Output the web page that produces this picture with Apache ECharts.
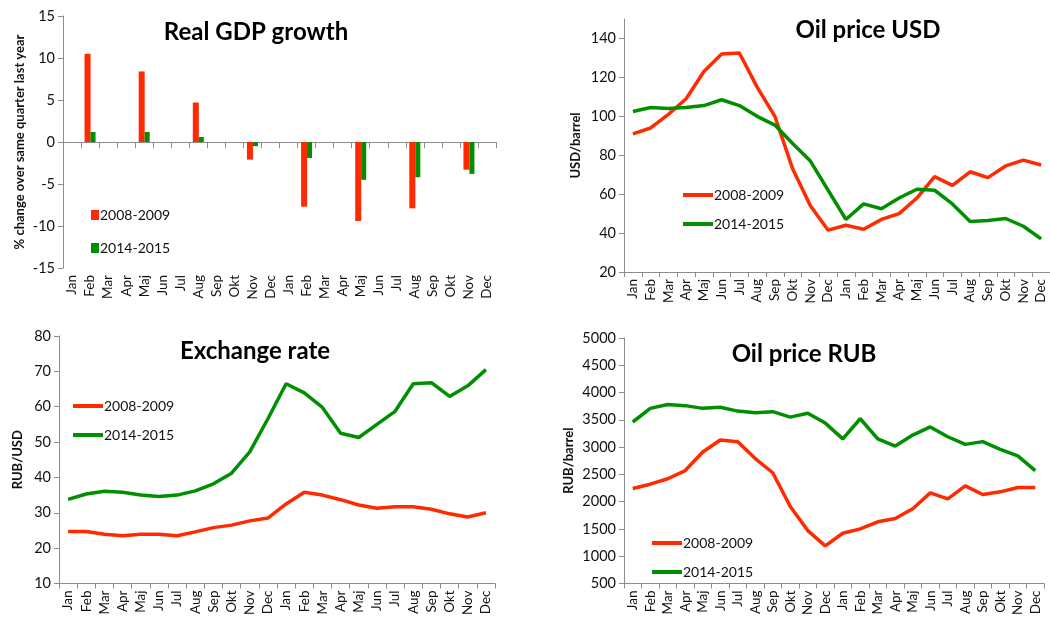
<!DOCTYPE html>
<html>
<head>
<meta charset="utf-8">
<script src="https://cdn.jsdelivr.net/npm/echarts@6/dist/echarts.min.js"></script>
<style>
html, body { margin: 0; padding: 0; background: #fff; }
#main { width: 1050px; height: 618px; }
</style>
</head>
<body>
<div id="main"></div>
<script>
// month categories, two years
var months = ['Jan','Feb','Mar','Apr','Maj','Jun','Jul','Aug','Sep','Okt','Nov','Dec',
              'Jan','Feb','Mar','Apr','Maj','Jun','Jul','Aug','Sep','Okt','Nov','Dec'];
var seriesNames = ['2008-2009', '2014-2015'];

// real GDP growth, quarterly (only Feb/Maj/Aug/Nov filled)
var gdp0809 = [null,10.5,null,null,8.4,null,null,4.7,null,null,-2.1,null,
               null,-7.7,null,null,-9.4,null,null,-7.9,null,null,-3.3,null];
var gdp1415 = [null,1.2,null,null,1.2,null,null,0.6,null,null,-0.5,null,
               null,-1.9,null,null,-4.5,null,null,-4.2,null,null,-3.8,null];

// oil price USD/barrel
var oilUsd0809 = [91,94,101,109,123,132,132.5,115,100,73,54,41.5,
                  44,42,47,50,58,69,64.5,71.5,68.5,74.5,77.5,75];
var oilUsd1415 = [102.5,104.5,104,104.5,105.5,108.5,105.5,100,95.5,86,77,62,
                  47,55,52.5,58,62.5,62,55,46,46.5,47.5,43.5,37];

// exchange rate RUB/USD
var fx0809 = [24.7,24.7,23.9,23.5,23.9,23.9,23.5,24.6,25.8,26.5,27.7,28.5,
              32.5,35.8,35,33.7,32.2,31.3,31.7,31.7,31,29.7,28.8,30];
var fx1415 = [33.8,35.3,36.1,35.8,35,34.6,35,36.2,38.2,41.2,47.2,56.6,
              66.5,63.9,59.8,52.5,51.3,55,58.7,66.5,66.8,62.9,65.9,70.5];

// oil price RUB/barrel
var oilRub0809 = [2240,2320,2420,2570,2910,3130,3100,2790,2530,1910,1470,1190,
                  1420,1500,1630,1690,1870,2160,2050,2290,2130,2180,2260,2260];
var oilRub1415 = [3460,3710,3780,3760,3710,3730,3660,3630,3650,3550,3620,3440,
                  3150,3520,3150,3020,3220,3370,3190,3050,3100,2960,2840,2570];

var RED = '#ff2a00';
var GREEN = '#008f00';
var AXIS = '#8c8c8c';
var FONT = 'Lato';

var grids = [
  { left: 63, top: 16, width: 433, height: 252 },
  { left: 624, top: 19, width: 426, height: 253 },
  { left: 59, top: 336, width: 436, height: 252 },
  { left: 624, top: 338, width: 420, height: 250 }
];

function catAxis(gi, extra) {
  var ax = {
    type: 'category', gridIndex: gi, data: months,
    axisLine: { lineStyle: { color: AXIS } },
    axisTick: { show: true, interval: 0, length: 5, lineStyle: { color: AXIS } },
    axisLabel: { interval: 0, rotate: 90, color: '#111', fontSize: 13.5, fontFamily: FONT, margin: 7 }
  };
  for (var k in extra) ax[k] = extra[k];
  return ax;
}

function valAxis(gi, min, max, interval, name, gap) {
  return {
    type: 'value', gridIndex: gi, min: min, max: max, interval: interval,
    name: name, nameLocation: 'middle', nameRotate: 90, nameGap: gap,
    nameTextStyle: { fontFamily: FONT, fontWeight: 'bold', fontSize: 13, color: '#111' },
    splitLine: { show: false },
    axisLine: { show: true, lineStyle: { color: AXIS } },
    axisTick: { show: true, length: 5, lineStyle: { color: AXIS } },
    axisLabel: { color: '#111', fontSize: 14.5, fontFamily: FONT,
                 showMaxLabel: (max - min) % interval === 0,
                 formatter: function (v) { return String(v); } }
  };
}

function lineSeries(name, data, color, idx) {
  return {
    name: name, type: 'line', data: data, xAxisIndex: idx, yAxisIndex: idx,
    showSymbol: false, symbol: 'none', smooth: false,
    lineStyle: { color: color, width: 3.5 }, itemStyle: { color: color }
  };
}

function legendAt(left, top, isBar) {
  return {
    left: left, top: top, orient: 'vertical', itemGap: isBar ? 19 : 15,
    itemWidth: isBar ? 8 : 30, itemHeight: isBar ? 10 : 4,
    icon: 'rect', data: seriesNames, selectedMode: false,
    textStyle: { fontFamily: FONT, fontSize: 14, color: '#111', padding: [0, 0, 0, -4] }
  };
}

function titleAt(text, x, y) {
  return {
    text: text, left: x, top: y, textAlign: 'center',
    textStyle: { fontFamily: FONT, fontWeight: 'bold', fontSize: 24, color: '#000' }
  };
}

var chart = echarts.init(document.getElementById('main'));

var option = {
  backgroundColor: '#fff',
  animation: false,
  title: [
    titleAt('Real GDP growth', 251, 15),
    titleAt('Oil price USD', 863, 13),
    titleAt('Exchange rate', 250, 334),
    titleAt('Oil price RUB', 799, 337)
  ],
  legend: [
    legendAt(86, 203, true),
    legendAt(678, 183, false),
    legendAt(68, 394, false),
    legendAt(647, 531, false)
  ],
  grid: grids,
  xAxis: [
    catAxis(0, { position: 'top', axisLine: { onZero: true, lineStyle: { color: AXIS } },
                 axisTick: { show: true, interval: 0, inside: true, length: 6, lineStyle: { color: AXIS } },
                 axisLabel: { show: false } }),
    catAxis(1, {}),
    catAxis(2, {}),
    catAxis(3, {}),
    catAxis(0, { position: 'bottom', axisLine: { show: false, onZero: false }, axisTick: { show: false } })
  ],
  yAxis: [
    valAxis(0, -15, 15, 5, '% change over same quarter last year', 37),
    valAxis(1, 20, 150, 20, 'USD/barrel', 42),
    valAxis(2, 10, 80, 10, 'RUB/USD', 35),
    valAxis(3, 500, 5000, 500, 'RUB/barrel', 49)
  ],
  series: [
    { name: seriesNames[0], type: 'bar', data: gdp0809, xAxisIndex: 0, yAxisIndex: 0,
      barWidth: 6, barGap: '0%', itemStyle: { color: RED } },
    { name: seriesNames[1], type: 'bar', data: gdp1415, xAxisIndex: 0, yAxisIndex: 0,
      barWidth: 5, barGap: '0%', itemStyle: { color: GREEN } },
    lineSeries(seriesNames[0], oilUsd0809, RED, 1),
    lineSeries(seriesNames[1], oilUsd1415, GREEN, 1),
    lineSeries(seriesNames[0], fx0809, RED, 2),
    lineSeries(seriesNames[1], fx1415, GREEN, 2),
    lineSeries(seriesNames[0], oilRub0809, RED, 3),
    lineSeries(seriesNames[1], oilRub1415, GREEN, 3)
  ]
};

chart.setOption(option, true);
</script>
</body>
</html>
